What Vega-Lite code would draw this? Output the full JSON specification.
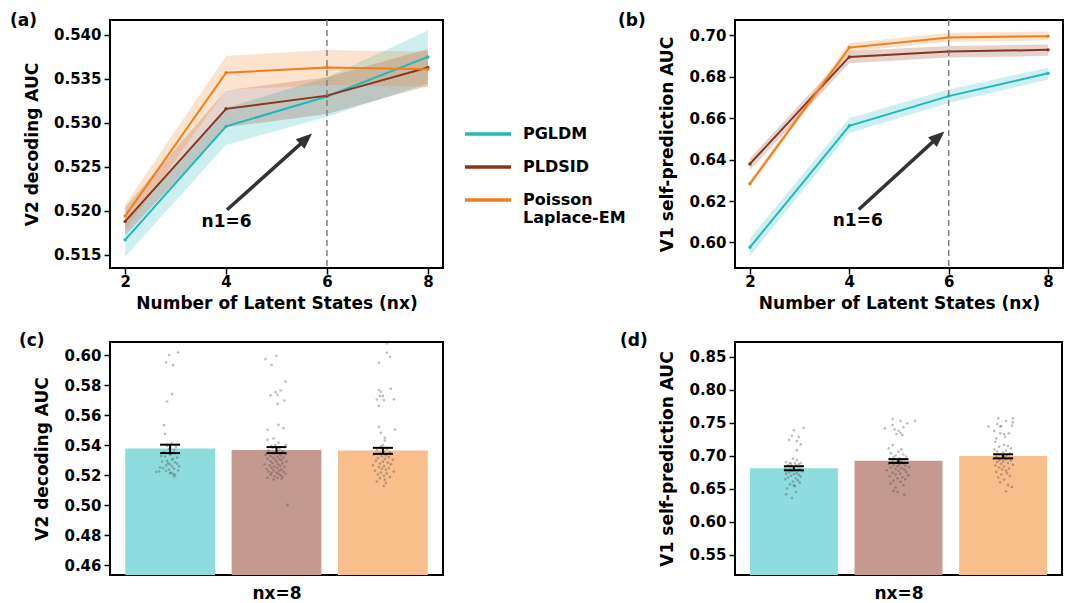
{
"$schema": "https://vega.github.io/schema/vega-lite/v6.json",
"background": "white",
"padding": {"left": 9, "top": 11, "right": 2, "bottom": 2},
"config": {
  "font": "DejaVu Sans",
  "view": {"stroke": "black", "strokeWidth": 2},
  "axis": {"domain": false, "grid": false, "labelOverlap": false, "tickCount": 20, "labelFont": "DejaVu Sans", "labelFontSize": 15, "labelFontWeight": "bold", "labelColor": "black", "titleFont": "DejaVu Sans", "titleFontSize": 17, "titleFontWeight": "bold", "titleColor": "black", "tickColor": "black", "tickWidth": 1.5, "tickSize": 6, "labelPadding": 3},
  "axisY": {"titlePadding": 12},
  "axisX": {"titlePadding": 6, "labelPadding": 0},
  "title": {"font": "DejaVu Sans", "fontSize": 17, "fontWeight": "bold", "color": "black", "anchor": "start", "frame": "group", "baseline": "middle", "offset": 0}
},
"datasets": {
  "lineA": [
    {"method":"PGLDM","nx":2,"auc":0.5167,"lo":0.5148,"hi":0.5186},
    {"method":"PGLDM","nx":4,"auc":0.5296,"lo":0.5275,"hi":0.5317},
    {"method":"PGLDM","nx":6,"auc":0.5330,"lo":0.5307,"hi":0.5352},
    {"method":"PGLDM","nx":8,"auc":0.5375,"lo":0.5345,"hi":0.5405},
    {"method":"PLDSID","nx":2,"auc":0.5188,"lo":0.5172,"hi":0.5204},
    {"method":"PLDSID","nx":4,"auc":0.5316,"lo":0.5295,"hi":0.5337},
    {"method":"PLDSID","nx":6,"auc":0.5331,"lo":0.5310,"hi":0.5352},
    {"method":"PLDSID","nx":8,"auc":0.5363,"lo":0.5342,"hi":0.5384},
    {"method":"Poisson Laplace-EM","nx":2,"auc":0.5194,"lo":0.5178,"hi":0.5207},
    {"method":"Poisson Laplace-EM","nx":4,"auc":0.5357,"lo":0.5338,"hi":0.5376},
    {"method":"Poisson Laplace-EM","nx":6,"auc":0.5363,"lo":0.5343,"hi":0.5383},
    {"method":"Poisson Laplace-EM","nx":8,"auc":0.5361,"lo":0.5341,"hi":0.5381}
  ],
  "lineB": [
    {"method":"PGLDM","nx":2,"auc":0.5977,"lo":0.5935,"hi":0.6020},
    {"method":"PGLDM","nx":4,"auc":0.6563,"lo":0.6528,"hi":0.6600},
    {"method":"PGLDM","nx":6,"auc":0.6706,"lo":0.6673,"hi":0.6738},
    {"method":"PGLDM","nx":8,"auc":0.6816,"lo":0.6786,"hi":0.6843},
    {"method":"PLDSID","nx":2,"auc":0.6379,"lo":0.6350,"hi":0.6406},
    {"method":"PLDSID","nx":4,"auc":0.6895,"lo":0.6864,"hi":0.6924},
    {"method":"PLDSID","nx":6,"auc":0.6921,"lo":0.6892,"hi":0.6948},
    {"method":"PLDSID","nx":8,"auc":0.6929,"lo":0.6900,"hi":0.6955},
    {"method":"Poisson Laplace-EM","nx":2,"auc":0.6283,"lo":0.6269,"hi":0.6300},
    {"method":"Poisson Laplace-EM","nx":4,"auc":0.6940,"lo":0.6920,"hi":0.6962},
    {"method":"Poisson Laplace-EM","nx":6,"auc":0.6989,"lo":0.6968,"hi":0.7012},
    {"method":"Poisson Laplace-EM","nx":8,"auc":0.6995,"lo":0.6975,"hi":0.7017}
  ],
  "barC": [
    {"method":"PGLDM","auc":0.5377,"lo":0.5347,"hi":0.5403},
    {"method":"PLDSID","auc":0.5367,"lo":0.5347,"hi":0.5387},
    {"method":"Poisson Laplace-EM","auc":0.5364,"lo":0.5342,"hi":0.5382}
  ],
  "barD": [
    {"method":"PGLDM","auc":0.6813,"lo":0.6782,"hi":0.6843},
    {"method":"PLDSID","auc":0.6925,"lo":0.6893,"hi":0.6950},
    {"method":"Poisson Laplace-EM","auc":0.6997,"lo":0.6962,"hi":0.7023}
  ],
  "scatC": [
    {"method":"PGLDM","auc":0.6017,"jit":8},{"method":"PGLDM","auc":0.6000,"jit":-1},{"method":"PGLDM","auc":0.5951,"jit":-4},{"method":"PGLDM","auc":0.5933,"jit":3},{"method":"PGLDM","auc":0.5740,"jit":2},{"method":"PGLDM","auc":0.5691,"jit":-3},{"method":"PGLDM","auc":0.5533,"jit":-6},{"method":"PGLDM","auc":0.5475,"jit":-5},
    {"method":"PGLDM","auc":0.5410,"jit":2},{"method":"PGLDM","auc":0.5395,"jit":-3},{"method":"PGLDM","auc":0.5387,"jit":6},{"method":"PGLDM","auc":0.5372,"jit":-1},{"method":"PGLDM","auc":0.5369,"jit":4},{"method":"PGLDM","auc":0.5352,"jit":-6},{"method":"PGLDM","auc":0.5341,"jit":1},{"method":"PGLDM","auc":0.5335,"jit":0},{"method":"PGLDM","auc":0.5327,"jit":-9},{"method":"PGLDM","auc":0.5324,"jit":-5},{"method":"PGLDM","auc":0.5318,"jit":7},{"method":"PGLDM","auc":0.5311,"jit":3},{"method":"PGLDM","auc":0.5302,"jit":2},{"method":"PGLDM","auc":0.5296,"jit":-3},{"method":"PGLDM","auc":0.5291,"jit":-8},{"method":"PGLDM","auc":0.5286,"jit":5},{"method":"PGLDM","auc":0.5280,"jit":-2},{"method":"PGLDM","auc":0.5276,"jit":7},{"method":"PGLDM","auc":0.5271,"jit":0},{"method":"PGLDM","auc":0.5265,"jit":-4},{"method":"PGLDM","auc":0.5259,"jit":9},{"method":"PGLDM","auc":0.5257,"jit":2},{"method":"PGLDM","auc":0.5252,"jit":-10},{"method":"PGLDM","auc":0.5246,"jit":-7},{"method":"PGLDM","auc":0.5243,"jit":4},{"method":"PGLDM","auc":0.5237,"jit":-1},{"method":"PGLDM","auc":0.5231,"jit":8},{"method":"PGLDM","auc":0.5228,"jit":-4},{"method":"PGLDM","auc":0.5225,"jit":-11},{"method":"PGLDM","auc":0.5222,"jit":-14},{"method":"PGLDM","auc":0.5218,"jit":1},{"method":"PGLDM","auc":0.5213,"jit":0},{"method":"PGLDM","auc":0.5207,"jit":3},{"method":"PGLDM","auc":0.5202,"jit":5},{"method":"PGLDM","auc":0.5191,"jit":4},
    {"method":"PLDSID","auc":0.5995,"jit":0},{"method":"PLDSID","auc":0.5973,"jit":-11},{"method":"PLDSID","auc":0.5935,"jit":-5},{"method":"PLDSID","auc":0.5824,"jit":9},{"method":"PLDSID","auc":0.5764,"jit":4},{"method":"PLDSID","auc":0.5753,"jit":-1},{"method":"PLDSID","auc":0.5735,"jit":1},{"method":"PLDSID","auc":0.5731,"jit":-6},{"method":"PLDSID","auc":0.5697,"jit":8},{"method":"PLDSID","auc":0.5675,"jit":1},{"method":"PLDSID","auc":0.5535,"jit":2},{"method":"PLDSID","auc":0.5513,"jit":7},{"method":"PLDSID","auc":0.5502,"jit":-9},{"method":"PLDSID","auc":0.5444,"jit":-3},{"method":"PLDSID","auc":0.5435,"jit":-9},{"method":"PLDSID","auc":0.5417,"jit":2},{"method":"PLDSID","auc":0.5400,"jit":-1},{"method":"PLDSID","auc":0.5401,"jit":9},{"method":"PLDSID","auc":0.5395,"jit":-5},{"method":"PLDSID","auc":0.5002,"jit":11},
    {"method":"PLDSID","auc":0.5381,"jit":-4},{"method":"PLDSID","auc":0.5373,"jit":3},{"method":"PLDSID","auc":0.5364,"jit":-8},{"method":"PLDSID","auc":0.5359,"jit":6},{"method":"PLDSID","auc":0.5351,"jit":0},{"method":"PLDSID","auc":0.5344,"jit":-2},{"method":"PLDSID","auc":0.5341,"jit":9},{"method":"PLDSID","auc":0.5335,"jit":-11},{"method":"PLDSID","auc":0.5332,"jit":4},{"method":"PLDSID","auc":0.5326,"jit":-6},{"method":"PLDSID","auc":0.5323,"jit":1},{"method":"PLDSID","auc":0.5317,"jit":7},{"method":"PLDSID","auc":0.5315,"jit":-3},{"method":"PLDSID","auc":0.5309,"jit":-9},{"method":"PLDSID","auc":0.5307,"jit":3},{"method":"PLDSID","auc":0.5301,"jit":-1},{"method":"PLDSID","auc":0.5299,"jit":5},{"method":"PLDSID","auc":0.5293,"jit":-6},{"method":"PLDSID","auc":0.5291,"jit":10},{"method":"PLDSID","auc":0.5286,"jit":0},{"method":"PLDSID","auc":0.5281,"jit":-4},{"method":"PLDSID","auc":0.5279,"jit":6},{"method":"PLDSID","auc":0.5273,"jit":-12},{"method":"PLDSID","auc":0.5271,"jit":2},{"method":"PLDSID","auc":0.5265,"jit":-7},{"method":"PLDSID","auc":0.5263,"jit":4},{"method":"PLDSID","auc":0.5257,"jit":-2},{"method":"PLDSID","auc":0.5255,"jit":8},{"method":"PLDSID","auc":0.5249,"jit":-5},{"method":"PLDSID","auc":0.5247,"jit":1},{"method":"PLDSID","auc":0.5241,"jit":-10},{"method":"PLDSID","auc":0.5239,"jit":5},{"method":"PLDSID","auc":0.5233,"jit":-3},{"method":"PLDSID","auc":0.5231,"jit":3},{"method":"PLDSID","auc":0.5225,"jit":-8},{"method":"PLDSID","auc":0.5223,"jit":7},{"method":"PLDSID","auc":0.5217,"jit":0},{"method":"PLDSID","auc":0.5215,"jit":-5},{"method":"PLDSID","auc":0.5209,"jit":9},{"method":"PLDSID","auc":0.5207,"jit":2},{"method":"PLDSID","auc":0.5201,"jit":-6},{"method":"PLDSID","auc":0.5199,"jit":4},{"method":"PLDSID","auc":0.5192,"jit":-2},{"method":"PLDSID","auc":0.5189,"jit":6},{"method":"PLDSID","auc":0.5183,"jit":-9},{"method":"PLDSID","auc":0.5181,"jit":1},{"method":"PLDSID","auc":0.5176,"jit":5},{"method":"PLDSID","auc":0.5171,"jit":-3},
    {"method":"Poisson Laplace-EM","auc":0.6077,"jit":4},{"method":"Poisson Laplace-EM","auc":0.6015,"jit":4},{"method":"Poisson Laplace-EM","auc":0.5989,"jit":7},{"method":"Poisson Laplace-EM","auc":0.5949,"jit":-4},{"method":"Poisson Laplace-EM","auc":0.5775,"jit":8},{"method":"Poisson Laplace-EM","auc":0.5767,"jit":-4},{"method":"Poisson Laplace-EM","auc":0.5755,"jit":-2},{"method":"Poisson Laplace-EM","auc":0.5727,"jit":-3},{"method":"Poisson Laplace-EM","auc":0.5728,"jit":0},{"method":"Poisson Laplace-EM","auc":0.5704,"jit":-6},{"method":"Poisson Laplace-EM","auc":0.5700,"jit":1},{"method":"Poisson Laplace-EM","auc":0.5705,"jit":11},{"method":"Poisson Laplace-EM","auc":0.5662,"jit":-4},{"method":"Poisson Laplace-EM","auc":0.5522,"jit":-4},{"method":"Poisson Laplace-EM","auc":0.5504,"jit":12},{"method":"Poisson Laplace-EM","auc":0.5482,"jit":-2},{"method":"Poisson Laplace-EM","auc":0.5449,"jit":2},{"method":"Poisson Laplace-EM","auc":0.5431,"jit":2},{"method":"Poisson Laplace-EM","auc":0.5400,"jit":0},{"method":"Poisson Laplace-EM","auc":0.5391,"jit":-2},
    {"method":"Poisson Laplace-EM","auc":0.5380,"jit":-2},{"method":"Poisson Laplace-EM","auc":0.5372,"jit":4},{"method":"Poisson Laplace-EM","auc":0.5366,"jit":-6},{"method":"Poisson Laplace-EM","auc":0.5358,"jit":1},{"method":"Poisson Laplace-EM","auc":0.5351,"jit":7},{"method":"Poisson Laplace-EM","auc":0.5344,"jit":-3},{"method":"Poisson Laplace-EM","auc":0.5338,"jit":-9},{"method":"Poisson Laplace-EM","auc":0.5332,"jit":3},{"method":"Poisson Laplace-EM","auc":0.5326,"jit":-1},{"method":"Poisson Laplace-EM","auc":0.5320,"jit":6},{"method":"Poisson Laplace-EM","auc":0.5314,"jit":-5},{"method":"Poisson Laplace-EM","auc":0.5308,"jit":2},{"method":"Poisson Laplace-EM","auc":0.5302,"jit":10},{"method":"Poisson Laplace-EM","auc":0.5296,"jit":-7},{"method":"Poisson Laplace-EM","auc":0.5290,"jit":0},{"method":"Poisson Laplace-EM","auc":0.5284,"jit":5},{"method":"Poisson Laplace-EM","auc":0.5278,"jit":-3},{"method":"Poisson Laplace-EM","auc":0.5272,"jit":8},{"method":"Poisson Laplace-EM","auc":0.5266,"jit":-10},{"method":"Poisson Laplace-EM","auc":0.5260,"jit":1},{"method":"Poisson Laplace-EM","auc":0.5254,"jit":-4},{"method":"Poisson Laplace-EM","auc":0.5248,"jit":6},{"method":"Poisson Laplace-EM","auc":0.5242,"jit":-1},{"method":"Poisson Laplace-EM","auc":0.5236,"jit":3},{"method":"Poisson Laplace-EM","auc":0.5230,"jit":-8},{"method":"Poisson Laplace-EM","auc":0.5224,"jit":11},{"method":"Poisson Laplace-EM","auc":0.5218,"jit":-2},{"method":"Poisson Laplace-EM","auc":0.5211,"jit":4},{"method":"Poisson Laplace-EM","auc":0.5204,"jit":-5},{"method":"Poisson Laplace-EM","auc":0.5196,"jit":1},{"method":"Poisson Laplace-EM","auc":0.5188,"jit":7},{"method":"Poisson Laplace-EM","auc":0.5180,"jit":-3},{"method":"Poisson Laplace-EM","auc":0.5170,"jit":2},{"method":"Poisson Laplace-EM","auc":0.5158,"jit":-6},{"method":"Poisson Laplace-EM","auc":0.5147,"jit":3},{"method":"Poisson Laplace-EM","auc":0.5127,"jit":1}
  ],
  "scatD": [
    {"method":"PGLDM","auc":0.7425,"jit":10},{"method":"PGLDM","auc":0.7386,"jit":0},{"method":"PGLDM","auc":0.7304,"jit":-2},{"method":"PGLDM","auc":0.7284,"jit":5},{"method":"PGLDM","auc":0.7238,"jit":-5},{"method":"PGLDM","auc":0.7223,"jit":3},{"method":"PGLDM","auc":0.7173,"jit":7},{"method":"PGLDM","auc":0.7086,"jit":3},{"method":"PGLDM","auc":0.6960,"jit":-1},{"method":"PGLDM","auc":0.6934,"jit":3},{"method":"PGLDM","auc":0.6893,"jit":7},{"method":"PGLDM","auc":0.6891,"jit":-4},
    {"method":"PGLDM","auc":0.6905,"jit":-8},{"method":"PGLDM","auc":0.6890,"jit":1},{"method":"PGLDM","auc":0.6878,"jit":-3},{"method":"PGLDM","auc":0.6870,"jit":5},{"method":"PGLDM","auc":0.6861,"jit":-6},{"method":"PGLDM","auc":0.6852,"jit":2},{"method":"PGLDM","auc":0.6845,"jit":8},{"method":"PGLDM","auc":0.6838,"jit":-2},{"method":"PGLDM","auc":0.6830,"jit":4},{"method":"PGLDM","auc":0.6822,"jit":-9},{"method":"PGLDM","auc":0.6815,"jit":0},
    {"method":"PGLDM","auc":0.6805,"jit":-4},{"method":"PGLDM","auc":0.6796,"jit":6},{"method":"PGLDM","auc":0.6788,"jit":-7},{"method":"PGLDM","auc":0.6780,"jit":1},{"method":"PGLDM","auc":0.6771,"jit":-2},{"method":"PGLDM","auc":0.6762,"jit":9},{"method":"PGLDM","auc":0.6750,"jit":-5},{"method":"PGLDM","auc":0.6741,"jit":3},{"method":"PGLDM","auc":0.6730,"jit":-8},{"method":"PGLDM","auc":0.6722,"jit":0},{"method":"PGLDM","auc":0.6710,"jit":5},{"method":"PGLDM","auc":0.6698,"jit":-3},{"method":"PGLDM","auc":0.6685,"jit":7},{"method":"PGLDM","auc":0.6672,"jit":-6},{"method":"PGLDM","auc":0.6660,"jit":2},{"method":"PGLDM","auc":0.6645,"jit":-9},{"method":"PGLDM","auc":0.6630,"jit":4},{"method":"PGLDM","auc":0.6612,"jit":-1},{"method":"PGLDM","auc":0.6595,"jit":6},{"method":"PGLDM","auc":0.6570,"jit":-4},{"method":"PGLDM","auc":0.6554,"jit":0},{"method":"PGLDM","auc":0.6540,"jit":1},{"method":"PGLDM","auc":0.6505,"jit":-7},{"method":"PGLDM","auc":0.6453,"jit":2},{"method":"PGLDM","auc":0.6417,"jit":-8},{"method":"PGLDM","auc":0.6361,"jit":-2},
    {"method":"PLDSID","auc":0.7557,"jit":-6},{"method":"PLDSID","auc":0.7527,"jit":17},{"method":"PLDSID","auc":0.7492,"jit":9},{"method":"PLDSID","auc":0.7529,"jit":2},{"method":"PLDSID","auc":0.7466,"jit":-6},{"method":"PLDSID","auc":0.7416,"jit":-14},{"method":"PLDSID","auc":0.7400,"jit":-4},{"method":"PLDSID","auc":0.7431,"jit":5},{"method":"PLDSID","auc":0.7380,"jit":0},{"method":"PLDSID","auc":0.7349,"jit":2},{"method":"PLDSID","auc":0.7329,"jit":-2},{"method":"PLDSID","auc":0.7314,"jit":4},{"method":"PLDSID","auc":0.7162,"jit":-6},{"method":"PLDSID","auc":0.7112,"jit":-10},{"method":"PLDSID","auc":0.7097,"jit":3},{"method":"PLDSID","auc":0.7060,"jit":0},{"method":"PLDSID","auc":0.7040,"jit":-8},{"method":"PLDSID","auc":0.7020,"jit":5},{"method":"PLDSID","auc":0.7005,"jit":-3},{"method":"PLDSID","auc":0.6990,"jit":8},{"method":"PLDSID","auc":0.6978,"jit":-5},{"method":"PLDSID","auc":0.6965,"jit":1},{"method":"PLDSID","auc":0.6955,"jit":-9},{"method":"PLDSID","auc":0.6945,"jit":6},{"method":"PLDSID","auc":0.6935,"jit":-1},
    {"method":"PLDSID","auc":0.6920,"jit":3},{"method":"PLDSID","auc":0.6912,"jit":-6},{"method":"PLDSID","auc":0.6903,"jit":9},{"method":"PLDSID","auc":0.6895,"jit":-2},{"method":"PLDSID","auc":0.6886,"jit":5},{"method":"PLDSID","auc":0.6877,"jit":-10},{"method":"PLDSID","auc":0.6868,"jit":1},{"method":"PLDSID","auc":0.6860,"jit":-5},{"method":"PLDSID","auc":0.6851,"jit":7},{"method":"PLDSID","auc":0.6842,"jit":-1},{"method":"PLDSID","auc":0.6832,"jit":11},{"method":"PLDSID","auc":0.6823,"jit":-8},{"method":"PLDSID","auc":0.6813,"jit":3},{"method":"PLDSID","auc":0.6803,"jit":-3},{"method":"PLDSID","auc":0.6792,"jit":6},{"method":"PLDSID","auc":0.6781,"jit":-12},{"method":"PLDSID","auc":0.6770,"jit":0},{"method":"PLDSID","auc":0.6758,"jit":8},{"method":"PLDSID","auc":0.6745,"jit":-6},{"method":"PLDSID","auc":0.6732,"jit":2},{"method":"PLDSID","auc":0.6718,"jit":-3},{"method":"PLDSID","auc":0.6705,"jit":10},{"method":"PLDSID","auc":0.6690,"jit":-9},{"method":"PLDSID","auc":0.6676,"jit":4},{"method":"PLDSID","auc":0.6660,"jit":-1},{"method":"PLDSID","auc":0.6643,"jit":7},{"method":"PLDSID","auc":0.6625,"jit":-5},{"method":"PLDSID","auc":0.6605,"jit":2},{"method":"PLDSID","auc":0.6580,"jit":-8},{"method":"PLDSID","auc":0.6555,"jit":5},{"method":"PLDSID","auc":0.6520,"jit":-3},{"method":"PLDSID","auc":0.6470,"jit":-5},{"method":"PLDSID","auc":0.6452,"jit":-1},{"method":"PLDSID","auc":0.6413,"jit":6},
    {"method":"Poisson Laplace-EM","auc":0.7568,"jit":10},{"method":"Poisson Laplace-EM","auc":0.7566,"jit":-5},{"method":"Poisson Laplace-EM","auc":0.7507,"jit":10},{"method":"Poisson Laplace-EM","auc":0.7441,"jit":-15},{"method":"Poisson Laplace-EM","auc":0.7527,"jit":3},{"method":"Poisson Laplace-EM","auc":0.7481,"jit":-6},{"method":"Poisson Laplace-EM","auc":0.7451,"jit":-2},{"method":"Poisson Laplace-EM","auc":0.7443,"jit":-3},{"method":"Poisson Laplace-EM","auc":0.7456,"jit":9},{"method":"Poisson Laplace-EM","auc":0.7375,"jit":-9},{"method":"Poisson Laplace-EM","auc":0.7340,"jit":-3},{"method":"Poisson Laplace-EM","auc":0.7329,"jit":1},{"method":"Poisson Laplace-EM","auc":0.7342,"jit":6},{"method":"Poisson Laplace-EM","auc":0.7288,"jit":2},{"method":"Poisson Laplace-EM","auc":0.7264,"jit":-7},{"method":"Poisson Laplace-EM","auc":0.7212,"jit":-8},{"method":"Poisson Laplace-EM","auc":0.7136,"jit":-4},{"method":"Poisson Laplace-EM","auc":0.7162,"jit":1},{"method":"Poisson Laplace-EM","auc":0.7147,"jit":5},{"method":"Poisson Laplace-EM","auc":0.7112,"jit":8},{"method":"Poisson Laplace-EM","auc":0.7097,"jit":-9},{"method":"Poisson Laplace-EM","auc":0.7080,"jit":3},{"method":"Poisson Laplace-EM","auc":0.7065,"jit":-6},{"method":"Poisson Laplace-EM","auc":0.7050,"jit":0},{"method":"Poisson Laplace-EM","auc":0.7035,"jit":7},{"method":"Poisson Laplace-EM","auc":0.7020,"jit":-3},{"method":"Poisson Laplace-EM","auc":0.7008,"jit":4},
    {"method":"Poisson Laplace-EM","auc":0.6990,"jit":-7},{"method":"Poisson Laplace-EM","auc":0.6982,"jit":2},{"method":"Poisson Laplace-EM","auc":0.6973,"jit":-1},{"method":"Poisson Laplace-EM","auc":0.6965,"jit":6},{"method":"Poisson Laplace-EM","auc":0.6955,"jit":-10},{"method":"Poisson Laplace-EM","auc":0.6946,"jit":3},{"method":"Poisson Laplace-EM","auc":0.6935,"jit":-4},{"method":"Poisson Laplace-EM","auc":0.6925,"jit":8},{"method":"Poisson Laplace-EM","auc":0.6913,"jit":0},{"method":"Poisson Laplace-EM","auc":0.6902,"jit":-6},{"method":"Poisson Laplace-EM","auc":0.6890,"jit":5},{"method":"Poisson Laplace-EM","auc":0.6878,"jit":-2},{"method":"Poisson Laplace-EM","auc":0.6865,"jit":10},{"method":"Poisson Laplace-EM","auc":0.6852,"jit":-8},{"method":"Poisson Laplace-EM","auc":0.6838,"jit":1},{"method":"Poisson Laplace-EM","auc":0.6823,"jit":-4},{"method":"Poisson Laplace-EM","auc":0.6808,"jit":6},{"method":"Poisson Laplace-EM","auc":0.6792,"jit":-1},{"method":"Poisson Laplace-EM","auc":0.6775,"jit":3},{"method":"Poisson Laplace-EM","auc":0.6757,"jit":-7},{"method":"Poisson Laplace-EM","auc":0.6738,"jit":4},{"method":"Poisson Laplace-EM","auc":0.6718,"jit":-2},{"method":"Poisson Laplace-EM","auc":0.6695,"jit":7},{"method":"Poisson Laplace-EM","auc":0.6670,"jit":-5},{"method":"Poisson Laplace-EM","auc":0.6640,"jit":1},{"method":"Poisson Laplace-EM","auc":0.6600,"jit":-3},{"method":"Poisson Laplace-EM","auc":0.6560,"jit":5},{"method":"Poisson Laplace-EM","auc":0.6528,"jit":9},{"method":"Poisson Laplace-EM","auc":0.6463,"jit":3}
  ]
},
"columns": 2,
"spacing": {"row": 74, "column": 292},
"bounds": "flush",
"resolve": {"scale": {"color": "independent", "fill": "independent"}, "legend": {"color": "independent", "fill": "independent"}},
"concat": [
  {
    "width": 333, "height": 248,
    "title": {"text": "(a)", "dx": -100, "dy": 15},
    "layer": [
      {"data": {"name": "lineA"}, "mark": {"type": "area", "opacity": 0.22},
       "encoding": {
         "x": {"field": "nx", "type": "quantitative", "scale": {"domain": [1.7, 8.3], "nice": false, "zero": false}, "axis": {"values": [2, 4, 6, 8], "format": "d", "tickCount": 20, "title": "Number of Latent States (nx)"}},
         "y": {"field": "lo", "type": "quantitative", "scale": {"domain": [0.5135, 0.5417], "nice": false, "zero": false}, "axis": {"values": [0.515, 0.52, 0.525, 0.53, 0.535, 0.54], "format": ".3f", "tickCount": 20, "labelOverlap": false, "title": "V2 decoding AUC"}},
         "y2": {"field": "hi"},
         "fill": {"field": "method", "type": "nominal", "scale": {"range": ["#1fb8bb", "#8a361e", "#f27e1a"]}, "legend": null}
       }},
      {"data": {"name": "lineA"}, "mark": {"type": "line", "strokeWidth": 2},
       "encoding": {
         "x": {"field": "nx", "type": "quantitative"},
         "y": {"field": "auc", "type": "quantitative"},
         "color": {"field": "method", "type": "nominal", "scale": {"domain": ["PGLDM", "PLDSID", "Poisson Laplace-EM"], "range": ["#1fb8bb", "#8a361e", "#f27e1a"]},
           "legend": {"title": null, "orient": "none", "legendX": 353, "legendY": 99, "symbolType": "stroke", "symbolSize": 2116, "symbolStrokeWidth": 3.5, "symbolOpacity": 1, "labelFontSize": 16, "labelFontWeight": "bold", "labelFont": "DejaVu Sans", "labelColor": "black", "labelOffset": 10, "clipHeight": 30, "rowPadding": 3, "labelLimit": 250, "labelExpr": "datum.label == 'Poisson Laplace-EM' ? ['Poisson', 'Laplace-EM'] : datum.label"}}
       }},
      {"data": {"name": "lineA"}, "mark": {"type": "point", "filled": true, "size": 12, "opacity": 1},
       "encoding": {
         "x": {"field": "nx", "type": "quantitative"},
         "y": {"field": "auc", "type": "quantitative"},
         "fill": {"field": "method", "type": "nominal", "legend": null}
       }},
      {"data": {"values": [{}]}, "mark": {"type": "rule", "strokeDash": [6, 4], "color": "#808080", "strokeWidth": 1.5},
       "encoding": {"x": {"datum": 6}}},
      {"data": {"values": [{}]}, "mark": {"type": "rule", "color": "#333333", "strokeWidth": 3.5},
       "encoding": {"x": {"datum": 4.02}, "y": {"datum": 0.52012}, "x2": {"datum": 5.56}, "y2": {"datum": 0.52804}}},
      {"data": {"values": [{}]}, "mark": {"type": "point", "shape": "M0,-1L0.65,0.6L-0.65,0.6Z", "filled": true, "color": "#333333", "opacity": 1, "size": 400, "angle": 48},
       "encoding": {"x": {"datum": 5.557}, "y": {"datum": 0.52804}}},
      {"data": {"values": [{}]}, "mark": {"type": "text", "text": "n1=6", "fontSize": 17, "fontWeight": "bold", "color": "black", "font": "DejaVu Sans"},
       "encoding": {"x": {"datum": 4.01}, "y": {"datum": 0.5187}}}
    ]
  },
  {
    "width": 328, "height": 248,
    "title": {"text": "(b)", "dx": -117, "dy": 15},
    "layer": [
      {"data": {"name": "lineB"}, "mark": {"type": "area", "opacity": 0.22},
       "encoding": {
         "x": {"field": "nx", "type": "quantitative", "scale": {"domain": [1.7, 8.3], "nice": false, "zero": false}, "axis": {"values": [2, 4, 6, 8], "format": "d", "tickCount": 20, "title": "Number of Latent States (nx)"}},
         "y": {"field": "lo", "type": "quantitative", "scale": {"domain": [0.5877, 0.7073], "nice": false, "zero": false}, "axis": {"values": [0.6, 0.62, 0.64, 0.66, 0.68, 0.7], "format": ".2f", "tickCount": 20, "labelOverlap": false, "title": "V1 self-prediction AUC"}},
         "y2": {"field": "hi"},
         "fill": {"field": "method", "type": "nominal", "scale": {"range": ["#1fb8bb", "#8a361e", "#f27e1a"]}, "legend": null}
       }},
      {"data": {"name": "lineB"}, "mark": {"type": "line", "strokeWidth": 2},
       "encoding": {
         "x": {"field": "nx", "type": "quantitative"},
         "y": {"field": "auc", "type": "quantitative"},
         "color": {"field": "method", "type": "nominal", "scale": {"domain": ["PGLDM", "PLDSID", "Poisson Laplace-EM"], "range": ["#1fb8bb", "#8a361e", "#f27e1a"]}, "legend": null}
       }},
      {"data": {"name": "lineB"}, "mark": {"type": "point", "filled": true, "size": 12, "opacity": 1},
       "encoding": {
         "x": {"field": "nx", "type": "quantitative"},
         "y": {"field": "auc", "type": "quantitative"},
         "fill": {"field": "method", "type": "nominal", "legend": null}
       }},
      {"data": {"values": [{}]}, "mark": {"type": "rule", "strokeDash": [6, 4], "color": "#808080", "strokeWidth": 1.5},
       "encoding": {"x": {"datum": 6}}},
      {"data": {"values": [{}]}, "mark": {"type": "rule", "color": "#333333", "strokeWidth": 3.5},
       "encoding": {"x": {"datum": 4.19}, "y": {"datum": 0.6159}, "x2": {"datum": 5.763}, "y2": {"datum": 0.65034}}},
      {"data": {"values": [{}]}, "mark": {"type": "point", "shape": "M0,-1L0.65,0.6L-0.65,0.6Z", "filled": true, "color": "#333333", "opacity": 1, "size": 400, "angle": 48},
       "encoding": {"x": {"datum": 5.763}, "y": {"datum": 0.65034}}},
      {"data": {"values": [{}]}, "mark": {"type": "text", "text": "n1=6", "fontSize": 17, "fontWeight": "bold", "color": "black", "font": "DejaVu Sans"},
       "encoding": {"x": {"datum": 4.17}, "y": {"datum": 0.6102}}}
    ]
  },
  {
    "width": 333, "height": 233,
    "title": {"text": "(c)", "dx": -91, "dy": 12},
    "resolve": {"scale": {"x": "independent", "xOffset": "independent"}, "axis": {"x": "independent"}},
    "layer": [
      {"data": {"name": "barC"}, "mark": {"type": "bar", "clip": true},
       "encoding": {
         "x": {"field": "method", "type": "nominal", "scale": {"domain": ["PGLDM", "PLDSID", "Poisson Laplace-EM"], "paddingInner": 0.156, "paddingOuter": 0.143}, "axis": {"labels": false, "ticks": false, "title": "nx=8", "titlePadding": 10}},
         "y": {"field": "auc", "type": "quantitative", "scale": {"domain": [0.4535, 0.6087], "nice": false, "zero": false}, "axis": {"values": [0.46, 0.48, 0.5, 0.52, 0.54, 0.56, 0.58, 0.6], "format": ".2f", "tickCount": 20, "labelOverlap": false, "title": "V2 decoding AUC"}},
         "color": {"field": "method", "type": "nominal", "scale": {"domain": ["PGLDM", "PLDSID", "Poisson Laplace-EM"], "range": ["#8ddcde", "#c49a8e", "#f8be8c"]}, "legend": null}
       }},
      {"encoding": {"x": {"field": "method", "type": "nominal", "scale": {"domain": ["PGLDM", "PLDSID", "Poisson Laplace-EM"], "paddingInner": 0.156, "paddingOuter": 0.143}, "axis": null}},
       "layer": [
        {"data": {"name": "scatC"}, "mark": {"type": "point", "filled": true, "size": 7, "color": "#444444", "opacity": 0.35},
         "encoding": {
           "xOffset": {"field": "jit", "type": "quantitative", "scale": {"domain": [-45, 45]}},
           "y": {"field": "auc", "type": "quantitative"}
         }},
        {"data": {"name": "barC"}, "mark": {"type": "rule", "color": "black", "strokeWidth": 2},
         "encoding": {"y": {"field": "lo", "type": "quantitative"}, "y2": {"field": "hi"}}},
        {"data": {"name": "barC"}, "mark": {"type": "tick", "color": "black", "thickness": 2, "size": 20, "opacity": 1},
         "encoding": {"y": {"field": "lo", "type": "quantitative"}}},
        {"data": {"name": "barC"}, "mark": {"type": "tick", "color": "black", "thickness": 2, "size": 20, "opacity": 1},
         "encoding": {"y": {"field": "hi", "type": "quantitative"}}}
       ]}
    ]
  },
  {
    "width": 327, "height": 233,
    "title": {"text": "(d)", "dx": -115, "dy": 12},
    "resolve": {"scale": {"x": "independent", "xOffset": "independent"}, "axis": {"x": "independent"}},
    "layer": [
      {"data": {"name": "barD"}, "mark": {"type": "bar", "clip": true},
       "encoding": {
         "x": {"field": "method", "type": "nominal", "scale": {"domain": ["PGLDM", "PLDSID", "Poisson Laplace-EM"], "paddingInner": 0.16, "paddingOuter": 0.143}, "axis": {"labels": false, "ticks": false, "title": "nx=8", "titlePadding": 10}},
         "y": {"field": "auc", "type": "quantitative", "scale": {"domain": [0.5196, 0.8723], "nice": false, "zero": false}, "axis": {"values": [0.55, 0.6, 0.65, 0.7, 0.75, 0.8, 0.85], "format": ".2f", "tickCount": 20, "labelOverlap": false, "title": "V1 self-prediction AUC"}},
         "color": {"field": "method", "type": "nominal", "scale": {"domain": ["PGLDM", "PLDSID", "Poisson Laplace-EM"], "range": ["#8ddcde", "#c49a8e", "#f8be8c"]}, "legend": null}
       }},
      {"encoding": {"x": {"field": "method", "type": "nominal", "scale": {"domain": ["PGLDM", "PLDSID", "Poisson Laplace-EM"], "paddingInner": 0.16, "paddingOuter": 0.143}, "axis": null}},
       "layer": [
        {"data": {"name": "scatD"}, "mark": {"type": "point", "filled": true, "size": 7, "color": "#444444", "opacity": 0.35},
         "encoding": {
           "xOffset": {"field": "jit", "type": "quantitative", "scale": {"domain": [-45, 45]}},
           "y": {"field": "auc", "type": "quantitative"}
         }},
        {"data": {"name": "barD"}, "mark": {"type": "rule", "color": "black", "strokeWidth": 2},
         "encoding": {"y": {"field": "lo", "type": "quantitative"}, "y2": {"field": "hi"}}},
        {"data": {"name": "barD"}, "mark": {"type": "tick", "color": "black", "thickness": 2, "size": 20, "opacity": 1},
         "encoding": {"y": {"field": "lo", "type": "quantitative"}}},
        {"data": {"name": "barD"}, "mark": {"type": "tick", "color": "black", "thickness": 2, "size": 20, "opacity": 1},
         "encoding": {"y": {"field": "hi", "type": "quantitative"}}}
       ]}
    ]
  }
]
}
